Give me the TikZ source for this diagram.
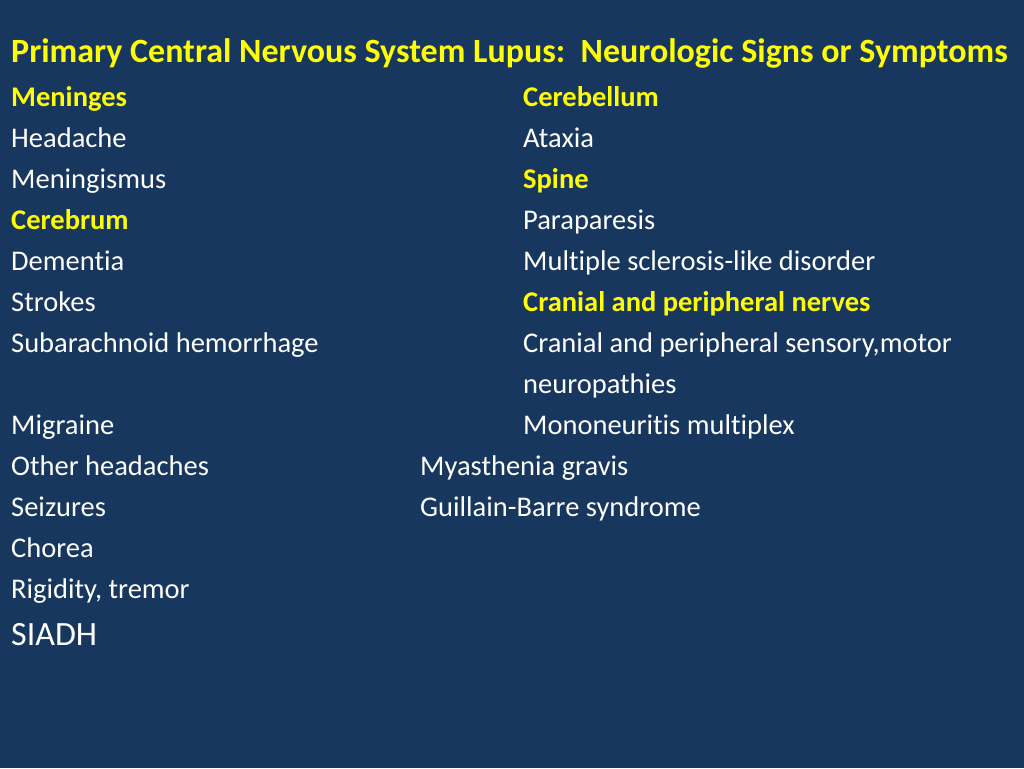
\documentclass[tikz,border=0pt]{standalone}
\usepackage{fontspec}
\setmainfont[Ligatures={NoCommon,NoContextual,NoRequired}]{Carlito}
\definecolor{bg}{RGB}{23,55,94}
\definecolor{yl}{RGB}{255,255,0}
\begin{document}
\begin{tikzpicture}[x=1pt,y=-1pt,
  tx/.style={anchor=base west,inner sep=0pt,text=white,font=\fontsize{28.5}{32}\selectfont},
  hd/.style={tx,text=yl,font=\fontsize{28.5}{32}\selectfont\bfseries}]
\fill[bg] (0,0) rectangle (1024,768);
\useasboundingbox (0,0) rectangle (1024,768);
\node[hd,font=\fontsize{34}{38}\selectfont\bfseries] (title) at (11,63) {Primary Central Nervous System Lupus:\ \ Neurologic Signs or Symptoms};
\node[hd] (l1) at (11,106) {Meninges};
\node[tx] (l2) at (11,147) {Headache};
\node[tx] (l3) at (11,188) {Meningismus};
\node[hd] (l4) at (11,229) {Cerebrum};
\node[tx] (l5) at (11,270) {Dementia};
\node[tx] (l6) at (11,311) {Strokes};
\node[tx] (l7) at (11,352) {Subarachnoid hemorrhage};
\node[tx] (l8) at (11,434) {Migraine};
\node[tx] (l9) at (11,475) {Other headaches};
\node[tx] (l10) at (11,516) {Seizures};
\node[tx] (l11) at (11,557) {Chorea};
\node[tx] (l12) at (11,598) {Rigidity, tremor};
\node[tx,font=\fontsize{34}{38}\selectfont] (l13) at (11,645) {SIADH};
\node[hd] (r1) at (523,106) {Cerebellum};
\node[tx] (r2) at (523,147) {Ataxia};
\node[hd] (r3) at (523,188) {Spine};
\node[tx] (r4) at (523,229) {Paraparesis};
\node[tx] (r5) at (523,270) {Multiple sclerosis-like disorder};
\node[hd] (r6) at (523,311) {Cranial and peripheral nerves};
\node[tx] (r7) at (523,352) {Cranial and peripheral sensory,motor};
\node[tx] (r8) at (523,393) {neuropathies};
\node[tx] (r9) at (523,434) {Mononeuritis multiplex};
\node[tx] (m1) at (420,475) {Myasthenia gravis};
\node[tx] (m2) at (420,516) {Guillain-Barre syndrome};
\end{tikzpicture}
\end{document}
